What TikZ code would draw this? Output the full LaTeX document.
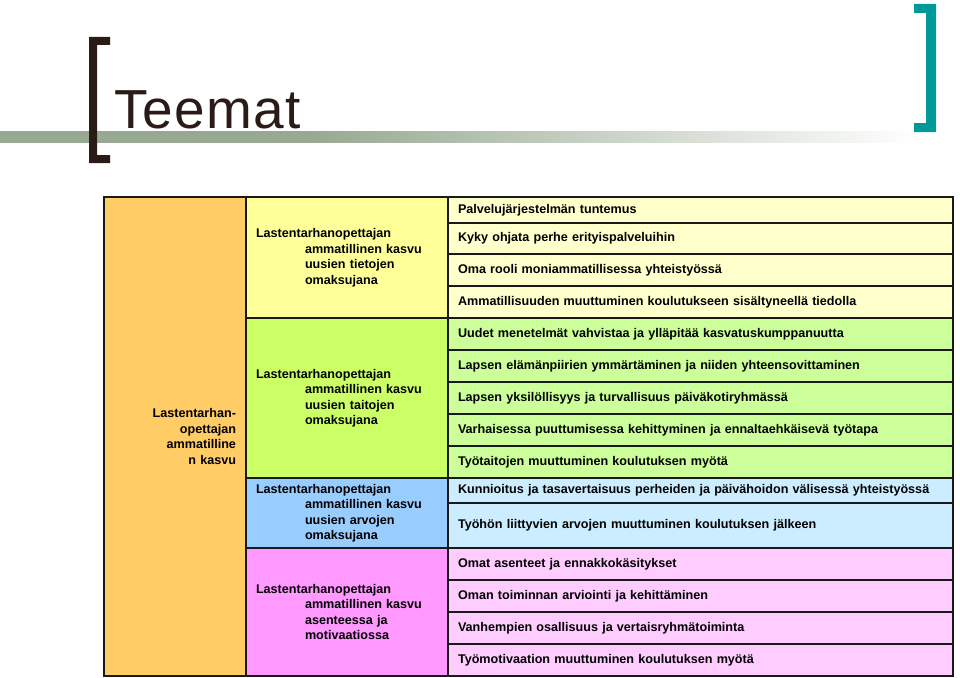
\documentclass[tikz,border=0pt]{standalone}
\usepackage{fontspec}
\setmainfont{Liberation Sans}
\newfontfamily\titlefont[LetterSpace=2.5]{Liberation Sans}
\usetikzlibrary{positioning}

\definecolor{titlebrown}{HTML}{2B1B17}
\definecolor{bracketteal}{HTML}{009999}
\definecolor{barsage}{HTML}{98A993}
\definecolor{kasvuorange}{HTML}{FFCC66}
\definecolor{tietoyellow}{HTML}{FFFF99}
\definecolor{taitogreen}{HTML}{CCFF66}
\definecolor{arvoblue}{HTML}{99CCFF}
\definecolor{asennepink}{HTML}{FF99FF}
\definecolor{tietorow}{HTML}{FFFFCC}
\definecolor{taitorow}{HTML}{CCFF99}
\definecolor{arvorow}{HTML}{CCECFF}
\definecolor{asennerow}{HTML}{FFCCFF}

\pgfdeclarehorizontalshading{titlebar}{100bp}{color(0bp)=(barsage); color(25bp)=(barsage); color(42bp)=(barsage); color(75bp)=(white); color(100bp)=(white)}

\begin{document}
\begin{tikzpicture}[
        x=1pt, y=-1pt,
        every node/.style={font=\fontsize{12.6}{15.5}\selectfont\bfseries, outer sep=0pt, text=black},
        cell/.style={draw=black!90, line width=1.5pt, inner xsep=10pt, inner ysep=0pt},
        teema/.style={cell, text width=182pt, align=left}, % middle column
        rivi/.style={cell, text width=485pt, align=left} % right column rows
      ]
      \useasboundingbox (0,0) rectangle (960,677);

      % Title band
      \shade[shading=titlebar] (0,131) rectangle (920,142);
      \fill[titlebrown] (89,37) -- (110,37) -- (110,45) -- (97,45) -- (97,155) -- (110,155)
        -- (110,163) -- (89,163) -- cycle;
      \fill[bracketteal] (914,4) -- (936,4) -- (936,132) -- (914,132) -- (914,123) -- (926,123)
        -- (926,13) -- (914,13) -- cycle;
      \node[font=\titlefont\fontsize{55}{60}\selectfont, text=titlebrown, anchor=base west, inner sep=0pt] (title) at (114,128) {Teemat};

      % Left column
      \node[cell, fill=kasvuorange, text width=122pt, align=right, minimum height=479pt, anchor=north west] (kasvu) at (104,197)
        {Lastentarhan-\\opettajan\\ammatilline\\n kasvu};

      % Middle column
      \node[teema, fill=tietoyellow, minimum height=121pt, anchor=north west] (tieto) at (246,197)
        {Lastentarhanopettajan\\\hspace*{49pt}ammatillinen kasvu\\\hspace*{49pt}uusien tietojen\\\hspace*{49pt}omaksujana};
      \node[teema, fill=taitogreen, minimum height=160pt, below=0pt of tieto] (taito)
        {Lastentarhanopettajan\\\hspace*{49pt}ammatillinen kasvu\\\hspace*{49pt}uusien taitojen\\\hspace*{49pt}omaksujana};
      \node[teema, fill=arvoblue, minimum height=70pt, below=0pt of taito] (arvo)
        {Lastentarhanopettajan\\\hspace*{49pt}ammatillinen kasvu\\\hspace*{49pt}uusien arvojen\\\hspace*{49pt}omaksujana};
      \node[teema, fill=asennepink, minimum height=128pt, below=0pt of arvo] (asenne)
        {Lastentarhanopettajan\\\hspace*{49pt}ammatillinen kasvu\\\hspace*{49pt}asenteessa ja\\\hspace*{49pt}motivaatiossa};

      % Right column
      \node[rivi, fill=tietorow, minimum height=26pt, anchor=north west] (r1) at (448,197) {Palvelujärjestelmän tuntemus};
      \node[rivi, fill=tietorow, minimum height=31pt, below=0pt of r1] (r2) {Kyky ohjata perhe erityispalveluihin};
      \node[rivi, fill=tietorow, minimum height=32pt, below=0pt of r2] (r3) {Oma rooli moniammatillisessa yhteistyössä};
      \node[rivi, fill=tietorow, minimum height=32pt, below=0pt of r3] (r4) {Ammatillisuuden muuttuminen koulutukseen sisältyneellä tiedolla};
      \node[rivi, fill=taitorow, minimum height=32pt, below=0pt of r4] (r5) {Uudet menetelmät vahvistaa ja ylläpitää kasvatuskumppanuutta};
      \node[rivi, fill=taitorow, minimum height=32pt, below=0pt of r5] (r6) {Lapsen elämänpiirien ymmärtäminen ja niiden yhteensovittaminen};
      \node[rivi, fill=taitorow, minimum height=32pt, below=0pt of r6] (r7) {Lapsen yksilöllisyys ja turvallisuus päiväkotiryhmässä};
      \node[rivi, fill=taitorow, minimum height=32pt, below=0pt of r7] (r8) {Varhaisessa puuttumisessa kehittyminen ja ennaltaehkäisevä työtapa};
      \node[rivi, fill=taitorow, minimum height=32pt, below=0pt of r8] (r9) {Työtaitojen muuttuminen koulutuksen myötä};
      \node[rivi, fill=arvorow, minimum height=25pt, below=0pt of r9] (r10) {Kunnioitus ja tasavertaisuus perheiden ja päivähoidon välisessä yhteistyössä};
      \node[rivi, fill=arvorow, minimum height=45pt, below=0pt of r10] (r11) {Työhön liittyvien arvojen muuttuminen koulutuksen jälkeen};
      \node[rivi, fill=asennerow, minimum height=32pt, below=0pt of r11] (r12) {Omat asenteet ja ennakkokäsitykset};
      \node[rivi, fill=asennerow, minimum height=32pt, below=0pt of r12] (r13) {Oman toiminnan arviointi ja kehittäminen};
      \node[rivi, fill=asennerow, minimum height=32pt, below=0pt of r13] (r14) {Vanhempien osallisuus ja vertaisryhmätoiminta};
      \node[rivi, fill=asennerow, minimum height=32pt, below=0pt of r14] (r15) {Työmotivaation muuttuminen koulutuksen myötä};

    \end{tikzpicture}
\end{document}
